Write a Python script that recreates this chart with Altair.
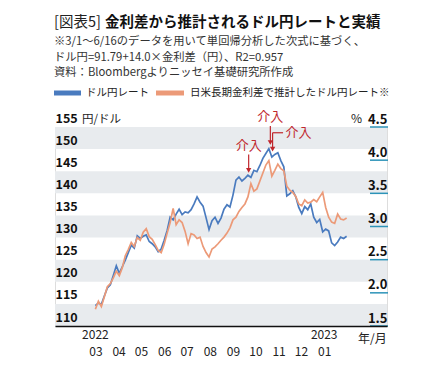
import altair as alt
import pandas as pd

FONT = "Noto Sans CJK JP"

dates = [
    "2022-03-01", "2022-03-05", "2022-03-09", "2022-03-13", "2022-03-17", "2022-03-21", "2022-03-25", "2022-03-29",
    "2022-04-02", "2022-04-06", "2022-04-10", "2022-04-14", "2022-04-18", "2022-04-22", "2022-04-26", "2022-04-30",
    "2022-05-04", "2022-05-08", "2022-05-12", "2022-05-16", "2022-05-20", "2022-05-24", "2022-05-28",
    "2022-06-01", "2022-06-05", "2022-06-09", "2022-06-13", "2022-06-17", "2022-06-21", "2022-06-25", "2022-06-29",
    "2022-07-03", "2022-07-07", "2022-07-11", "2022-07-15", "2022-07-19", "2022-07-23", "2022-07-27", "2022-07-31",
    "2022-08-04", "2022-08-08", "2022-08-12", "2022-08-16", "2022-08-20", "2022-08-24", "2022-08-28",
    "2022-09-01", "2022-09-05", "2022-09-09", "2022-09-13", "2022-09-17", "2022-09-21", "2022-09-25", "2022-09-29",
    "2022-10-03", "2022-10-07", "2022-10-11", "2022-10-15", "2022-10-19", "2022-10-23", "2022-10-27", "2022-10-31",
    "2022-11-04", "2022-11-08", "2022-11-12", "2022-11-16", "2022-11-20", "2022-11-24", "2022-11-28",
    "2022-12-02", "2022-12-06", "2022-12-10", "2022-12-14", "2022-12-18", "2022-12-22", "2022-12-26", "2022-12-30",
    "2023-01-03", "2023-01-07", "2023-01-11", "2023-01-15", "2023-01-19", "2023-01-23", "2023-01-27", "2023-01-31",
]

usdjpy = [
    114.6, 115.2, 114.9, 116.8, 118.6, 119.3, 121.4, 123.6,
    121.9, 123.4, 124.9, 126.6, 128.3, 127.6, 130.4, 129.8,
    130.3, 130.6, 129.1, 128.6, 127.9, 126.8, 127.4,
    129.4, 131.6, 134.6, 134.0, 135.3, 136.4, 135.2, 135.8,
    135.6, 136.3, 137.6, 139.2, 138.0, 137.1, 134.5, 131.8,
    133.8, 134.6, 133.2, 134.4, 136.4, 137.4, 136.9,
    139.6, 143.0, 143.7, 142.8, 143.4, 144.1, 143.6, 145.2,
    144.9, 146.3, 147.9, 149.0, 150.1, 148.2, 148.8, 149.2,
    147.4, 146.0, 139.4, 139.9, 140.6, 139.2, 136.8,
    135.4, 137.0, 136.3, 137.6, 134.6, 133.4, 134.1, 131.3,
    131.9, 131.5, 128.8, 128.2, 129.0, 130.1, 129.8, 130.3,
]

estimate = [
    113.8, 115.6, 114.4, 116.6, 118.9, 119.6, 120.9, 122.4,
    121.4, 123.2, 125.9, 127.3, 128.9, 128.0, 130.0, 129.4,
    131.2, 132.0, 130.2, 129.6, 128.4, 127.1, 126.6,
    128.5, 131.0, 133.4, 136.6, 132.9, 134.0, 133.4, 131.4,
    128.6, 130.9, 130.6, 129.8, 130.1, 128.0, 126.6, 125.6,
    127.4, 127.9, 128.6, 129.4, 130.1, 131.0, 132.2,
    134.0, 134.6, 135.9, 136.8, 137.6, 139.2, 142.2, 140.5,
    141.0, 142.8, 144.6, 146.4, 147.4, 143.9, 145.2, 146.6,
    145.6, 145.1, 141.6, 140.7, 140.2, 139.3, 137.6,
    137.2, 138.5, 137.8, 138.0, 138.6, 138.1, 139.2, 140.2,
    136.8, 134.6, 133.5, 133.2, 135.3, 134.2, 134.0, 134.4,
]

series_names = ["ドル円レート", "日米長期金利差で推計したドル円レート※"]
series_colors = ["#4a7bbf", "#ec9a78"]

left_ticks = [110, 115, 120, 125, 130, 135, 140, 145, 150, 155]
right_ticks = [1.5, 2.0, 2.5, 3.0, 3.5, 4.0, 4.5]
band_lo = [110, 120, 130, 140, 150]
band_hi = [115, 125, 135, 145, 155]

month_ticks = [(2022, m) for m in range(3, 13)] + [(2023, 1)]
year_dates = ["2022-03-01", "2023-01-01"]
year_labels = ["2022", "2023"]

arrow_dates = ["2022-09-22", "2022-10-21", "2022-10-24"]
arrow_top = [148.8, 155.2, 153.7]
arrow_tip = [145.2, 151.5, 150.0]
label_dates = ["2022-09-22", "2022-10-21", "2022-11-09"]
label_vals = [150.6, 157.3, 153.7]
label_align = ["center", "center", "left"]
connector = {"start": "2022-10-24", "end": "2022-11-07", "value": 153.7}

W, H = 332, 199
RED = "#c0272d"

df = pd.DataFrame({
    "date": dates * 2,
    "value": usdjpy + estimate,
    "series": [series_names[0]] * len(dates) + [series_names[1]] * len(dates),
})
bands = pd.DataFrame({"lo": band_lo, "hi": band_hi})
right_df = pd.DataFrame({"pct": right_ticks})
arrows = pd.DataFrame({"date": arrow_dates, "top": arrow_top, "tip": arrow_tip})
labels = pd.DataFrame({"date": label_dates, "value": label_vals, "text": ["介入"] * 3, "align": label_align})
conn = pd.DataFrame([connector])
years = pd.DataFrame({"date": year_dates, "text": year_labels})
one = pd.DataFrame({"k": [0]})

xscale = alt.Scale(domain=[alt.DateTime(year=2022, month=1, date=6),
                           alt.DateTime(year=2023, month=3, date=26)])
yscale = alt.Scale(domain=[110, 155], nice=False, zero=False)

x_axis = alt.Axis(
    values=[alt.DateTime(year=y, month=m, date=1) for y, m in month_ticks],
    format="%m",
    title=None, grid=False, ticks=False, domain=True, domainColor="#111111", domainWidth=1.6,
    labelFont=FONT, labelFontSize=12, labelColor="#222222",
    labelPadding=20, labelFlush=False, labelOverlap=False, labelBaseline="top", zindex=1,
)
y_axis = alt.Axis(
    values=left_ticks, title=None, grid=False, ticks=False, tickSize=0, domain=False,
    labelAlign="left", labelBaseline="bottom", labelPadding=0, labelOffset=-2, labelFont=FONT,
    labelFontSize=12.5, labelFontWeight="bold", labelColor="#111111", labelOverlap=False,
    labelFlush=False, zindex=1,
)


def X(field):
    return alt.X(field, scale=xscale, axis=x_axis)


def Y(field):
    return alt.Y(field, scale=yscale, axis=y_axis)


band_layer = alt.Chart(bands).mark_rect(color="#e8ebee").encode(
    x=alt.value(0), x2=alt.value(W), y=Y("lo:Q"), y2="hi:Q",
)

lines = alt.Chart(df).mark_line(strokeWidth=1.7, clip=True).encode(
    x=X("date:T"),
    y=Y("value:Q"),
    color=alt.Color("series:N", scale=alt.Scale(domain=series_names, range=series_colors), legend=None),
    order=alt.Order("date:T"),
)

shafts = alt.Chart(arrows).mark_rule(color=RED, strokeWidth=1.2).encode(
    x=X("date:T"), y=Y("top:Q"), y2="tip:Q",
)
heads = alt.Chart(arrows).mark_point(shape="triangle-down", filled=True, color=RED, size=28, opacity=1).encode(
    x=X("date:T"), y=Y("tip:Q"),
)
conn_layer = alt.Chart(conn).mark_rule(color=RED, strokeWidth=1.2).encode(
    x=X("start:T"), x2="end:T", y=Y("value:Q"),
)
ann_c = alt.Chart(labels).transform_filter("datum.align == 'center'").mark_text(
    color=RED, font=FONT, fontSize=13, align="center", baseline="middle").encode(
    x=X("date:T"), y=Y("value:Q"), text="text:N")
ann_l = alt.Chart(labels).transform_filter("datum.align == 'left'").mark_text(
    color=RED, font=FONT, fontSize=13, align="left", baseline="middle", dx=1).encode(
    x=X("date:T"), y=Y("value:Q"), text="text:N")
year_layer = alt.Chart(years).mark_text(
    color="#222222", font=FONT, fontSize=12, align="center", baseline="middle").encode(
    x=X("date:T"), y=alt.value(H + 9), text="text:N")


def txt(s, x, y, size=12, weight="normal", color="#333333", align="left", baseline="middle"):
    return alt.Chart(one).mark_text(font=FONT, fontSize=size, fontWeight=weight, color=color,
                                    align=align, baseline=baseline, text=s).encode(
        x=alt.value(x), y=alt.value(y))


header = [
    txt("[図表5]", -1, -104, size=14.5, color="#222222"),
    txt("金利差から推計されるドル円レートと実績", 50, -104, size=14.5, weight="bold", color="#111111"),
    txt("※3/1～6/16のデータを用いて単回帰分析した次式に基づく、", -1, -85, size=11.3),
    txt("ドル円=91.79+14.0×金利差（円）、R2=0.957", -1, -69.5, size=11.3),
    txt("資料：Bloombergよりニッセイ基礎研究所作成", -1, -54.5, size=11.3),
    txt(series_names[0], 31, -34, size=10.5, color="#222222"),
    txt(series_names[1], 135, -34, size=10.5, color="#222222"),
    txt("円/ドル", 27, -2, size=11.5, color="#222222", baseline="bottom"),
    txt("%", 307, -1, size=12, color="#222222", align="right", baseline="bottom"),
    txt("年/月", 303, 212, size=12, color="#222222"),
]
legend_swatches = [
    alt.Chart(one).mark_rule(color=series_colors[0], strokeWidth=5).encode(
        x=alt.value(-1), x2=alt.value(26), y=alt.value(-34)),
    alt.Chart(one).mark_rule(color=series_colors[1], strokeWidth=5).encode(
        x=alt.value(101), x2=alt.value(129), y=alt.value(-34)),
]

right_axis = alt.Chart(right_df).mark_rule(color="#2c93b8", strokeWidth=1.5).encode(
    x=alt.value(315), x2=alt.value(333),
    y=alt.Y("pct:Q", scale=alt.Scale(domain=[1.5, 4.5], nice=False, zero=False),
            axis=alt.Axis(orient="right", values=right_ticks, format=".1f", title=None, grid=False,
                          ticks=False, tickSize=0, domain=False, labelAlign="right",
                          labelBaseline="bottom", labelPadding=0, labelOffset=-1, labelFont=FONT,
                          labelFontSize=13, labelFontWeight="bold", labelColor="#111111",
                          labelOverlap=False, labelFlush=False, zindex=1)),
)

left_part = alt.layer(band_layer, lines, shafts, heads, conn_layer, ann_c, ann_l, year_layer,
                      *legend_swatches, *header)

chart = alt.layer(left_part, right_axis).resolve_scale(y="independent").properties(
    width=W, height=H,
    autosize=alt.AutoSizeParams(type="none"),
    padding={"left": 47, "top": 119, "right": 45, "bottom": 44},
).configure_view(stroke=None).configure(background="white")

chart.save("out.html", embed_options={"renderer": "svg", "actions": False})
